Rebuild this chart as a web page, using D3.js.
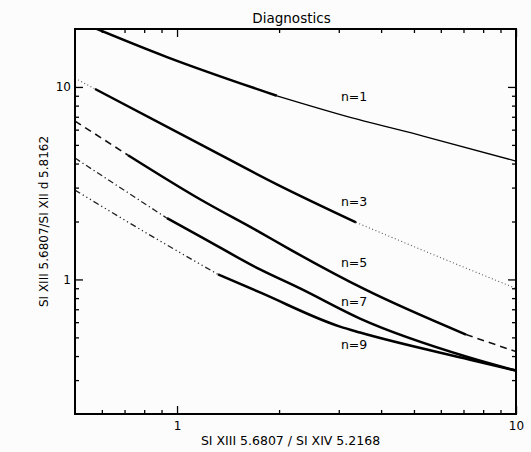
<!DOCTYPE html>
<html>
<head>
<meta charset="utf-8">
<script src="https://cdn.jsdelivr.net/npm/d3@7"></script>
<style>
  body { margin: 0; background: #fcfcfc; }
  text { font-family: "DejaVu Sans", sans-serif; fill: #000; }
</style>
</head>
<body>
<div id="chart"></div>
<script>
// axis ticks
const xMajor = [1, 10];
const xMinor = [0.6, 0.7, 0.8, 0.9, 2, 3, 4, 5, 6, 7, 8, 9];
const yMajor = [1, 10];
const yMinor = [0.3, 0.4, 0.5, 0.6, 0.7, 0.8, 0.9, 2, 3, 4, 5, 6, 7, 8, 9];

// curves (x = SI XIII/SI XIV ratio, y = SI XIII/SI XII d ratio)
const n1X = [0.5, 0.934, 1.97, 3.40, 5.32, 10];
const n1Y = [22.3, 14.3, 9.0, 6.8, 5.56, 4.12];
const n1Parts = [[0.5, 1.97], [1.97, 10]];

const n3X = [0.5, 0.573, 1.169, 1.97, 3.373, 5.77, 10];
const n3Y = [11.1, 9.76, 5.05, 3.12, 1.98, 1.334, 0.898];
const n3Parts = [[0.5, 0.573], [0.573, 3.373], [3.373, 10]];

const n5X = [0.5, 0.717, 1.169, 1.757, 2.126, 3.586, 7.12, 10];
const n5Y = [6.65, 4.42, 2.61, 1.757, 1.45, 0.887, 0.517, 0.422];
const n5Parts = [[0.5, 0.717], [0.717, 7.12], [7.12, 10]];

const n7X = [0.5, 0.934, 1.169, 1.757, 2.306, 3.466, 7.32, 10];
const n7Y = [4.27, 2.08, 1.675, 1.127, 0.898, 0.626, 0.392, 0.336];
const n7Parts = [[0.5, 0.934], [0.934, 10]];

const n9X = [0.5, 0.832, 1.321, 1.757, 3.026, 3.466, 7.32, 10];
const n9Y = [2.91, 1.70, 1.062, 0.856, 0.569, 0.53, 0.383, 0.336];
const n9Parts = [[0.5, 1.321], [1.321, 10]];

const labelNames = ['n=1', 'n=3', 'n=5', 'n=7', 'n=9'];
const labelX = [3.33, 3.33, 3.33, 3.33, 3.33];
const labelY = [8.86, 2.55, 1.226, 0.768, 0.459];

const W = 531, H = 452;
const margin = { top: 29, right: 15, bottom: 38, left: 75 };
const width = W - margin.left - margin.right;
const height = H - margin.top - margin.bottom;

const lineStyles = {
  thick: { w: 2.5, dash: null, c: '#000' },
  thin: { w: 1.3, dash: null, c: '#000' },
  dot: { w: 1.1, dash: '1,2.5', c: '#555' },
  dash: { w: 1.6, dash: '7,5', c: '#111' },
  dashdot: { w: 1.3, dash: '6,3,1.2,3', c: '#222' },
  dash3dot: { w: 1.3, dash: '6,3,1.2,3,1.2,3,1.2,3', c: '#222' }
};

const curves = [
  { x: n1X, y: n1Y, parts: n1Parts, styles: ['thick', 'thin'] },
  { x: n3X, y: n3Y, parts: n3Parts, styles: ['dot', 'thick', 'dot'] },
  { x: n5X, y: n5Y, parts: n5Parts, styles: ['dash', 'thick', 'dash'] },
  { x: n7X, y: n7Y, parts: n7Parts, styles: ['dashdot', 'thick'] },
  { x: n9X, y: n9Y, parts: n9Parts, styles: ['dash3dot', 'thick'] }
];

const svg = d3.select('#chart').append('svg')
  .attr('width', W)
  .attr('height', H);

svg.append('rect').attr('width', W).attr('height', H).attr('fill', '#fcfcfc');

const g = svg.append('g')
  .attr('transform', `translate(${margin.left},${margin.top})`);

const x = d3.scaleLog().domain([0.5, 10]).range([0, width]);
const y = d3.scaleLog().domain([0.2, 20]).range([height, 0]);

g.append('clipPath').attr('id', 'clip')
  .append('rect').attr('width', width).attr('height', height);

// curves
const line = d3.line()
  .x(d => x(d[0]))
  .y(d => y(d[1]))
  .curve(d3.curveMonotoneX);

const plot = g.append('g').attr('clip-path', 'url(#clip)');
curves.forEach(cv => {
  const pts = cv.x.map((v, i) => [v, cv.y[i]]);
  cv.parts.forEach((p, i) => {
    const seg = pts.filter(d => d[0] >= p[0] - 1e-9 && d[0] <= p[1] + 1e-9);
    const st = lineStyles[cv.styles[i]];
    plot.append('path')
      .datum(seg)
      .attr('d', line)
      .attr('fill', 'none')
      .attr('stroke', st.c)
      .attr('stroke-width', st.w)
      .attr('stroke-dasharray', st.dash);
  });
});

// axes, ticks inward on all four sides
function drawAxis(axisFn, scale, values, size, labels, transform) {
  const a = axisFn(scale).tickValues(values).tickSize(-size).tickPadding(7);
  a.tickFormat(labels ? d3.format('') : '');
  const ax = g.append('g').attr('transform', transform).call(a);
  ax.select('.domain').remove();
  ax.selectAll('line').attr('stroke', '#000').attr('stroke-width', 1.3);
  ax.selectAll('text').style('font-size', '12px').attr('fill', '#000');
  return ax;
}

drawAxis(d3.axisBottom, x, xMajor, 8, true, `translate(0,${height})`);
drawAxis(d3.axisBottom, x, xMinor, 4, false, `translate(0,${height})`);
drawAxis(d3.axisTop, x, xMajor, 8, false, 'translate(0,0)');
drawAxis(d3.axisTop, x, xMinor, 4, false, 'translate(0,0)');
drawAxis(d3.axisLeft, y, yMajor, 8, true, 'translate(0,0)').selectAll('text').attr('x', -4);
drawAxis(d3.axisLeft, y, yMinor, 4, false, 'translate(0,0)');
drawAxis(d3.axisRight, y, yMajor, 8, false, `translate(${width},0)`);
drawAxis(d3.axisRight, y, yMinor, 4, false, `translate(${width},0)`);

g.append('rect')
  .attr('width', width).attr('height', height)
  .attr('fill', 'none').attr('stroke', '#000').attr('stroke-width', 2);

// curve labels
g.selectAll('.nlabel').data(labelNames).enter().append('text')
  .attr('class', 'nlabel')
  .attr('x', (d, i) => x(labelX[i]))
  .attr('y', (d, i) => y(labelY[i]))
  .attr('dy', '0.35em')
  .attr('text-anchor', 'middle')
  .style('font-size', '12.5px')
  .text(d => d);

// titles
svg.append('text')
  .attr('x', margin.left + width / 2 - 4)
  .attr('y', 23)
  .attr('text-anchor', 'middle')
  .style('font-size', '13.5px')
  .text('Diagnostics');

svg.append('text')
  .attr('x', margin.left + width / 2 - 5)
  .attr('y', 445)
  .attr('text-anchor', 'middle')
  .style('font-size', '12.5px')
  .text('SI XIII 5.6807 / SI XIV 5.2168');

svg.append('text')
  .attr('transform', `translate(48,${margin.top + height / 2}) rotate(-90)`)
  .attr('text-anchor', 'middle')
  .style('font-size', '12px')
  .text('SI XIII 5.6807/SI XII d 5.8162');
</script>
</body>
</html>
